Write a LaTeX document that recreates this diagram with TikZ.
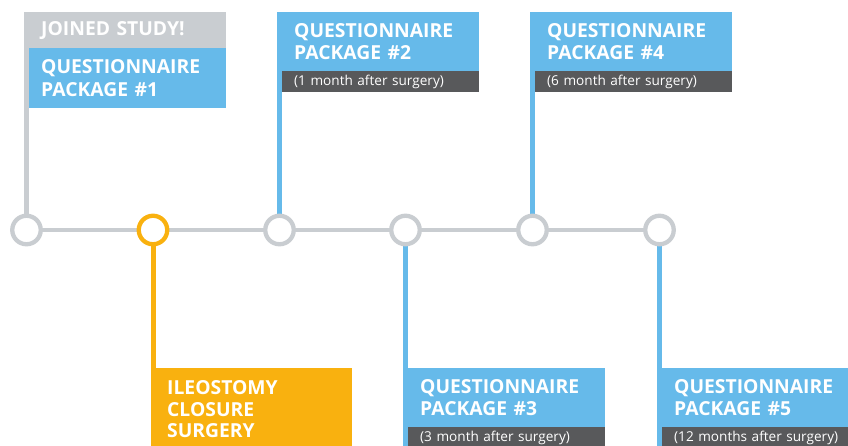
\documentclass[tikz,border=0pt]{standalone}
\usepackage{fontspec}
\setmainfont{Open Sans}
\usetikzlibrary{backgrounds}
\definecolor{tlgray}{HTML}{C9CDD1}
\definecolor{tlblue}{HTML}{66BAEA}
\definecolor{tldark}{HTML}{58595B}
\definecolor{tlorange}{HTML}{F9B10F}
\begin{document}
\begin{tikzpicture}[x=1pt,y=-1pt,
  dot/.style={circle, draw=#1, line width=4.3pt, fill=white, minimum size=28.5pt, inner sep=0pt},
  stemline/.style={line width=5pt, draw=#1},
  railline/.style={line width=4.3pt, draw=tlgray},
  title/.style={anchor=north west, minimum width=197pt, text width=173pt, inner xsep=12pt, inner ysep=0pt,
    align=left, text=white, minimum height=59pt, font=\fontsize{19.3}{21.5}\selectfont\bfseries},
  subbox/.style={anchor=north west, minimum width=197pt, text width=173pt, inner xsep=12pt, inner ysep=0pt,
    align=left, minimum height=21pt, fill=tldark, text=white, font=\fontsize{13.6}{15}\selectfont}
]
\useasboundingbox (0,0) rectangle (848,445);
\clip (0,0) rectangle (848,445);

% boxes
\node[title, fill=tlgray, minimum height=36pt] (h1) at (29,12) {JOINED STUDY!};
\node[title, fill=tlblue, minimum height=60pt, font=\fontsize{19.3}{23}\selectfont\bfseries] (q1) at (29,48) {QUESTIONNAIRE\\PACKAGE \#1};

\node[title, fill=tlblue] (q2) at (282,12) {QUESTIONNAIRE\\PACKAGE \#2};
\node[subbox] (s2) at (282,71) {(1 month after surgery)};

\node[title, fill=tlblue] (q4) at (535,12) {QUESTIONNAIRE\\PACKAGE \#4};
\node[subbox] (s4) at (535,71) {(6 month after surgery)};

\node[title, fill=tlorange, minimum height=82pt] (o2) at (155,368) {ILEOSTOMY\\CLOSURE\\SURGERY};

\node[title, fill=tlblue] (q3) at (408,368) {QUESTIONNAIRE\\PACKAGE \#3};
\node[subbox] (s3) at (408,427) {(3 month after surgery)};

\node[title, fill=tlblue] (q5) at (662,368) {QUESTIONNAIRE\\PACKAGE \#5};
\node[subbox] (s5) at (662,427) {(12 months after surgery)};

% timeline dots
\node[dot=tlgray]   (c1) at (26.5,230) {};
\node[dot=tlorange] (c2) at (153,230) {};
\node[dot=tlgray]   (c3) at (279.5,230) {};
\node[dot=tlgray]   (c4) at (405.5,230) {};
\node[dot=tlgray]   (c5) at (532.5,230) {};
\node[dot=tlgray]   (c6) at (659.5,230) {};

\begin{scope}[on background layer]
  \draw[railline] (c1.center) -- (c6.center);
  \draw[stemline=tlgray]   (c1.center) -- (c1.center |- h1.north);
  \draw[stemline=tlorange] (c2.center) -- (c2.center |- o2.south);
  \draw[stemline=tlblue]   (c3.center) -- (c3.center |- q2.north);
  \draw[stemline=tlblue]   (c4.center) -- (c4.center |- s3.south);
  \draw[stemline=tlblue]   (c5.center) -- (c5.center |- q4.north);
  \draw[stemline=tlblue]   (c6.center) -- (c6.center |- s5.south);
\end{scope}
\end{tikzpicture}
\end{document}
